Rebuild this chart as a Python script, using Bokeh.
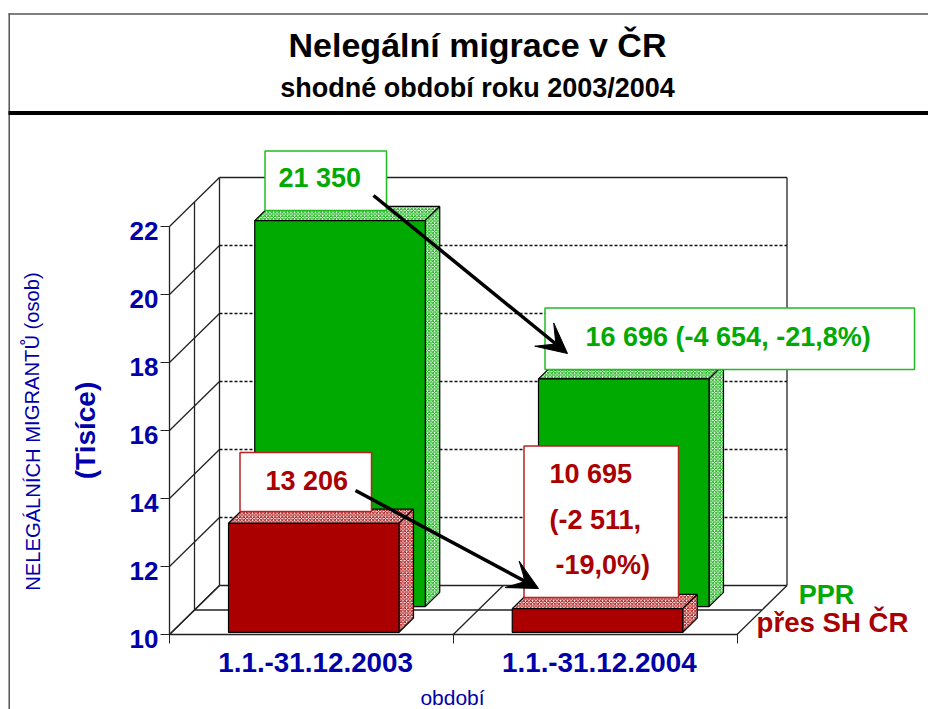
from bokeh.plotting import figure
from bokeh.models import Range1d, LinearAxis, FixedTicker, Arrow, VeeHead
from bokeh.core.properties import value
from bokeh.embed import file_html
from bokeh.resources import INLINE

# ---- data (thousands of persons) ----
categories = ["1.1.-31.12.2003", "1.1.-31.12.2004"]
ppr = [21.350, 16.696]
sh_cr = [13.206, 10.695]
y_ticks = [10, 12, 14, 16, 18, 20, 22]
grid_values = [12, 14, 16, 18, 20]
series_names = ["PPR", "přes SH ČR"]
title = "Nelegální migrace v ČR"
subtitle = "shodné období roku 2003/2004"
y_title = "NELEGÁLNÍCH MIGRANTŮ (osob)"
y_unit = "(Tisíce)"
x_title = "období"
label_ppr = ["21 350", "16 696 (-4 654, -21,8%)"]
label_sh = ["13 206", ["10 695", "(-2 511,", "-19,0%)"]]

GREEN, RED, BLUE = "#00AA00", "#AA0000", "#0000AA"
LGREEN, LRED = "#00AA00", "#AA0000"
FONT = value("Liberation Sans")

# ---- scales: 1 category = 283.75 px, 1 unit of value = 34 px
PX_CAT, PX_VAL = 283.75, 34.0
X0_PX, Y0_PX = 169.0, 634.0
def X(px): return (px - X0_PX) / PX_CAT
def Y(py): return 10 + (Y0_PX - py) / PX_VAL

W, H = 928, 709
p = figure(width=W, height=H, output_backend="svg", toolbar_location=None,
           x_range=Range1d(X(0), X(W)), y_range=Range1d(Y(H), Y(0)),
           min_border=0, x_axis_type=None, y_axis_type=None, outline_line_color=None,
           background_fill_color="white", border_fill_color="white")
p.grid.visible = False

# projection of the chart depth onto the page
DX = 50.0 / PX_CAT
DY = 49.0 / PX_VAL
def proj(c, v, d):
    return c + d * DX, v + d * DY

INK = "#222222"
def seg(xs, ys, **kw):
    kw.setdefault("line_color", INK)
    kw.setdefault("line_width", 1.3)
    p.line(xs, ys, **kw)

def seg3(a, b, **kw):
    pa, pb = proj(*a), proj(*b)
    seg([pa[0], pb[0]], [pa[1], pb[1]], **kw)

# ---- page frame ----
seg([X(8), X(928)], [Y(13.5), Y(13.5)], line_color="#555555", line_width=1.5)
seg([X(8.7), X(8.7)], [Y(13), Y(709)], line_color="#555555", line_width=1.5)
seg([X(8), X(928)], [Y(112.5), Y(112.5)], line_color="black", line_width=4)

# ---- 3D box ----
for d in (0.5, 1):
    seg3((0, 10, d), (0, 22, d))
    seg3((0, 10, d), (2, 10, d))
seg3((0, 22, 1), (2, 22, 1))
seg3((2, 10, 1), (2, 22, 1))
for c in (0, 1, 2):
    seg3((c, 10, 0), (c, 10, 1))
for v in y_ticks:
    seg3((0, v, 0), (0, v, 1))
for v in grid_values:
    seg3((0, v, 1), (2, v, 1), line_dash="3 2", line_color="#111111")

# ---- bars ----
BAR_W = 170.5 / PX_CAT
BAR_OFF = 0.2
BAR_D = 0.29

def bar(c, v, d, color, light):
    left = c + BAR_OFF + d * DX
    right = left + BAR_W
    base = 10 + d * DY
    top = v + d * DY
    ox, oy = BAR_D * DX, BAR_D * DY
    p.patches([[left, right, right + ox, left + ox], [right, right + ox, right + ox, right]],
              [[top, top, top + oy, top + oy], [base, base + oy, top + oy, top]],
              fill_color="white", hatch_color=light, hatch_pattern="diagonal_cross",
              hatch_scale=3.5, hatch_weight=1, line_color="black", line_width=1.2)
    p.quad(left=left, right=right, bottom=base, top=top,
           fill_color=color, line_color="black", line_width=1.2)

for i in range(2):
    bar(i, ppr[i], 0.57, GREEN, LGREEN)
for i in range(2):
    bar(i, sh_cr[i], 0.045, RED, LRED)

# ---- axes ----
yax = LinearAxis(fixed_location=0, bounds=(10, 22), ticker=FixedTicker(ticks=y_ticks),
                 major_tick_out=9, major_tick_in=0, minor_tick_out=0, minor_tick_in=0,
                 major_tick_line_color=INK, axis_line_color=INK, axis_line_width=1.3,
                 major_label_text_color=None)
p.add_layout(yax, "left")
xax = LinearAxis(fixed_location=10, bounds=(0, 2), ticker=FixedTicker(ticks=[0, 1, 2]),
                 major_tick_out=9, major_tick_in=0, minor_tick_out=0, minor_tick_in=0,
                 major_tick_line_color=INK, axis_line_color=INK, axis_line_width=1.3,
                 major_label_text_color=None)
p.add_layout(xax, "below")
xlab = LinearAxis(fixed_location=10, ticker=FixedTicker(ticks=[0.515, 1.515]),
                  major_label_overrides={0.515: categories[0], 1.515: categories[1]},
                  major_tick_out=0, major_tick_in=0, minor_tick_out=0, minor_tick_in=0,
                  axis_line_color=None, major_label_standoff=18,
                  major_label_text_font="Liberation Sans", major_label_text_font_style="bold",
                  major_label_text_font_size="27.8px", major_label_text_color=BLUE)
p.add_layout(xlab, "below")

# ---- texts ----
def txt(px, py, s, size, color, style="bold", align="left", angle=0.0):
    p.text([X(px)], [Y(py)], text=[s], text_font=FONT, text_font_style=style,
           text_font_size=size, text_color=color, text_align=align,
           text_baseline="middle", angle=angle)

# y tick labels sit slightly below their ticks in the reference
p.text([X(158)] * len(y_ticks), [v - 4 / PX_VAL for v in y_ticks], text=[str(v) for v in y_ticks],
       text_font=FONT, text_font_style="bold", text_font_size="26px", text_color=BLUE,
       text_align="right", text_baseline="middle")

txt(477, 44, title, "34px", "black", align="center")
txt(477, 87, subtitle, "27px", "black", align="center")
txt(32, 431, y_title, "20.2px", BLUE, style="normal", align="center", angle=1.5708)
txt(85, 430, y_unit, "28px", BLUE, align="center", angle=1.5708)
txt(452, 697, x_title, "21px", BLUE, style="normal", align="center")
txt(826, 594, series_names[0], "27px", GREEN, align="center")
txt(832, 622, series_names[1], "27.6px", RED, align="center")

# ---- callouts ----
def box(x0, x1, y0, y1, color):
    p.quad(left=X(x0), right=X(x1), top=Y(y0), bottom=Y(y1), fill_color="white",
           line_color=color, line_width=1.5)

box(264.5, 386, 150.5, 210, "#22BB22")
txt(278, 177, label_ppr[0], "27px", GREEN)
box(544.5, 914, 307.5, 369, "#22BB22")
txt(585, 336, label_ppr[1], "27px", GREEN)
box(239.5, 371, 452, 511, "#BB2222")
txt(265, 480, label_sh[0], "27px", RED)
box(523.5, 678, 445.5, 597, "#BB2222")
txt(549, 473, label_sh[1][0], "27px", RED)
txt(549, 519, label_sh[1][1], "27px", RED)
txt(555, 564, label_sh[1][2], "27px", RED)

# ---- arrows ----
for (a, b, c, d) in ((373, 195, 567, 353), (355, 490, 538, 588)):
    p.add_layout(Arrow(end=VeeHead(size=30, fill_color="black", line_color="black", line_width=1),
                       x_start=X(a), y_start=Y(b), x_end=X(c), y_end=Y(d),
                       line_color="black", line_width=3.5))

open("out.html", "w").write(file_html(p, INLINE))
